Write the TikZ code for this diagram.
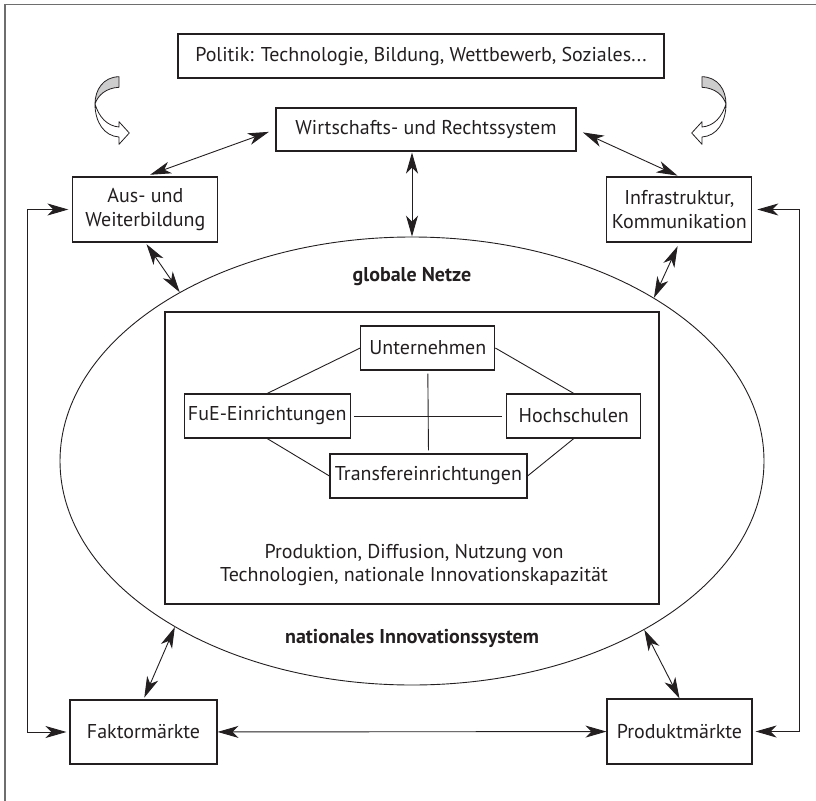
\documentclass[tikz,border=0pt]{standalone}
\usepackage{fontspec}
\setmainfont{PT Sans}
\usetikzlibrary{arrows.meta,positioning,calc,shapes.geometric}
\definecolor{inkgray}{RGB}{35,31,32}
\definecolor{framegray}{RGB}{110,110,110}
\definecolor{ribbongray}{RGB}{205,205,205}

\begin{document}
\begin{tikzpicture}[
    x=1pt, y=-1pt,
    every node/.style={font=\fontsize{20}{23.5}\selectfont, align=center, text=inkgray},
    box/.style={draw=inkgray, line width=1.1pt, inner sep=0pt},
    tag/.style={font=\fontsize{20}{23.5}\selectfont\bfseries},
    link/.style={draw=inkgray, line width=0.9pt},
    both/.style={link, {Stealth[length=21pt,width=12pt,inset=6pt]}-{Stealth[length=21pt,width=12pt,inset=6pt]}},
    ribbon/.style={draw=inkgray, line width=0.8pt, line join=round}
]
\useasboundingbox (0,0) rectangle (816,800);
% outer frame
\draw[framegray, line width=1.5pt] (5,830) |- (840,4.6);

% top row
\node[box, minimum width=486pt, minimum height=44pt] (politik) at (421,56) {Politik: Technologie, Bildung, Wettbewerb, Soziales...};
\node[box, minimum width=300pt, minimum height=43pt] (wr) at (426,129.5) {Wirtschafts- und Rechtssystem};
\node[box, minimum width=145pt, minimum height=65pt] (aus) at (145.4,209.5) {Aus- und\\Weiterbildung};
\node[box, minimum width=145pt, minimum height=65pt] (infra) at (679.3,209.5) {Infrastruktur,\\Kommunikation};

% curved arrows from Politik
\foreach \flip/\off in {1/0, -1/821} {
\begin{scope}[xshift=\off pt, xscale=\flip]
\filldraw[ribbon, fill=white] (95,104) .. controls (95,122) and (104,136) .. (119,137) -- (119,144.3) -- (129.3,133) -- (119,121.7) -- (119,127) .. controls (107,126) and (99,117) .. (95,104) -- cycle;
\filldraw[ribbon, fill=ribbongray] (119,76.7) .. controls (103,77) and (95,90) .. (95,104) .. controls (98,95) and (106,88) .. (119,87.3) -- cycle;
\end{scope}
}

% national innovation system
\node[ellipse, draw=inkgray, line width=0.9pt, minimum width=704pt, minimum height=448pt, inner sep=0pt] (nis) at (412,461) {};
\node[tag] (netze) at (412,277) {globale Netze};
\node[tag] (nistext) at (412,638) {nationales Innovationssystem};
\node[box, minimum width=494pt, minimum height=292pt] (kern) at (412,458) {};

% actors
\node[box, minimum width=134pt, minimum height=44pt] (unt) at (427.8,348) {Unternehmen};
\node[box, minimum width=166pt, minimum height=44pt] (fue) at (267.2,416) {FuE-Einrichtungen};
\node[box, minimum width=134pt, minimum height=44pt] (hoch) at (573.8,416) {Hochschulen};
\node[box, minimum width=197pt, minimum height=44pt] (trans) at (428.5,476) {Transfereinrichtungen};
\node (leistung) at (414,565) {Produktion, Diffusion, Nutzung von\\Technologien, nationale Innovationskapazität};

\draw[link] (unt.west) -- (fue.north);
\draw[link] (unt.east) -- (hoch.north);
\draw[link] (fue.south) -- (trans.west);
\draw[link] (hoch.south) -- (trans.east);
\draw[link, shorten <=3pt, shorten >=3pt] (unt.south) -- (trans.north);
\draw[link, shorten <=3pt, shorten >=4pt] (fue.east) -- (hoch.west);

% markets
\node[box, minimum width=147pt, minimum height=64pt] (faktor) at (143.5,732) {Faktormärkte};
\node[box, minimum width=145pt, minimum height=65pt] (produkt) at (679.5,731.5) {Produktmärkte};

% interactions
\draw[both, shorten <=7pt, shorten >=5pt] (wr.west) -- (aus.north);
\draw[both, shorten <=7pt, shorten >=2pt] (wr.east) -- (infra.north);
\draw[both, shorten <=1pt] (wr.south -| nis.north) -- (nis.north);
\draw[both, shorten <=2pt] (aus.south) -- (nis.144);
\draw[both, shorten <=4pt] (infra.south) -- (nis.34);
\draw[both, shorten >=2pt] (nis.215) -- (faktor.north);
\draw[both] (nis.324) -- (produkt.north);
\draw[both] (faktor) -- (produkt);
\draw[both, shorten <=4pt, shorten >=3pt] (aus.west) -- ++(-45,0) |- (faktor.west);
\draw[both, shorten <=5pt, shorten >=3pt] (infra.east) -- ++(47,0) |- (produkt.east);
\end{tikzpicture}
\end{document}
